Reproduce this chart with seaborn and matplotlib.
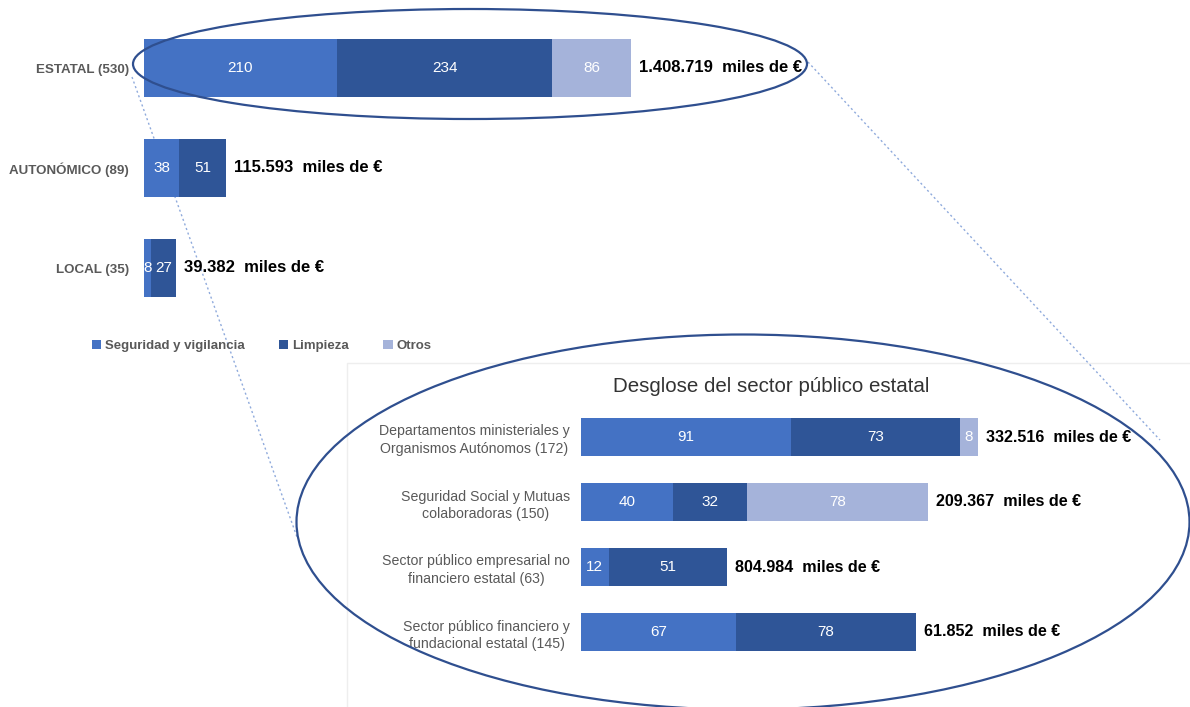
import matplotlib
matplotlib.use("Agg")
import matplotlib.pyplot as plt
import seaborn as sns
import numpy as np
from matplotlib.patches import Ellipse, Patch, Rectangle

sns.set_theme(style="white")
FONT = ['Liberation Sans', 'DejaVu Sans']
plt.rcParams['font.family'] = FONT

# ---------------- data ----------------
top_categories = ["ESTATAL (530)", "AUTONÓMICO (89)", "LOCAL (35)"]
top_seguridad = [210, 38, 8]
top_limpieza = [234, 51, 27]
top_otros = [86, 0, 0]
top_totals = ["1.408.719  miles de €", "115.593  miles de €", "39.382  miles de €"]

bot_categories = ["Departamentos ministeriales y\nOrganismos Autónomos (172)",
                  "Seguridad Social y Mutuas\ncolaboradoras (150)",
                  "Sector público empresarial no\nfinanciero estatal (63)",
                  "Sector público financiero y\nfundacional estatal (145)"]
bot_seguridad = [91, 40, 12, 67]
bot_limpieza = [73, 32, 51, 78]
bot_otros = [8, 78, 0, 0]
bot_totals = ["332.516  miles de €", "209.367  miles de €", "804.984  miles de €", "61.852  miles de €"]

series_names = ["Seguridad y vigilancia", "Limpieza", "Otros"]
colors = ["#4472C4", "#2F5597", "#A5B3DA"]
bot_title = "Desglose del sector público estatal"

W, H = 1190, 707
fig = plt.figure(figsize=(W / 100, H / 100), dpi=100)
fig.patch.set_facecolor("white")


def rect(l, t, r, b):
    return [l / W, 1 - b / H, (r - l) / W, (b - t) / H]


# background overlay: faint inset frame and dotted connector lines
ax_bg = fig.add_axes(rect(0, 0, W, H), zorder=0)
ax_bg.set_xlim(0, W); ax_bg.set_ylim(H, 0); ax_bg.axis("off")
ax_bg.plot([347, 347, W], [H, 363, 363], color="#EEEEEE", lw=1)
ax_bg.plot([132, 297], [77, 537], ls=(0, (1.5, 2)), color="#8FAADC", lw=1)
ax_bg.plot([808, 1160], [62, 440], ls=(0, (1.5, 2)), color="#8FAADC", lw=1)


def stacked(ax, cats, seg, lim, otr, totals, px_per_unit, width_px, seg_fs, tot_fs, lab_fs,
            lab_weight, pad_pt):
    seg = np.array(seg); lim = np.array(lim); otr = np.array(otr)
    c1 = seg; c2 = seg + lim; c3 = seg + lim + otr
    for cum, col in zip([c3, c2, c1], colors[::-1]):
        sns.barplot(x=cum, y=cats, orient="h", color=col, saturation=1, width=0.58,
                    errorbar=None, ax=ax, zorder=2, linewidth=0)
    n = len(cats)
    ax.set_ylim(n - 0.5, -0.5)
    ax.set_xlim(0, width_px / px_per_unit)
    for i in range(n):
        starts = [0, c1[i], c2[i]]
        vals = [seg[i], lim[i], otr[i]]
        for s, v in zip(starts, vals):
            if v > 0:
                ax.text(s + v / 2, i, str(v), ha="center", va="center", color="white",
                        fontsize=seg_fs, zorder=3)
        ax.text(c3[i] + 8 / px_per_unit, i, totals[i], ha="left", va="center",
                fontsize=tot_fs, fontweight="bold", color="black", zorder=3)
    ax.set_xlabel(""); ax.set_ylabel("")
    ax.set_xticks([])
    ax.set_yticks(range(n))
    ax.set_yticklabels(cats, fontsize=lab_fs, color="#595959", fontweight=lab_weight,
                       multialignment="center", linespacing=1.3)
    ax.tick_params(axis="y", length=0, pad=pad_pt)
    sns.despine(ax=ax, left=True, bottom=True)
    ax.patch.set_alpha(0)


ax_top = fig.add_axes(rect(144, 18, W, 318), zorder=1)
stacked(ax_top, top_categories, top_seguridad, top_limpieza, top_otros, top_totals,
        0.919, W - 144, 11, 12, 9.6, "bold", 11)

ax_bot = fig.add_axes(rect(581, 404.5, W, 664.5), zorder=1)
stacked(ax_bot, bot_categories, bot_seguridad, bot_limpieza, bot_otros, bot_totals,
        2.31, W - 581, 11, 11.6, 10.2, "normal", 8)

fig.text(771 / W, 1 - 386 / H, bot_title, ha="center", va="center", fontsize=14.8,
         color="#333333")

handles = [Patch(facecolor=c, edgecolor="none") for c in colors]
leg = fig.legend(handles, series_names, loc="center left", bbox_to_anchor=(80 / W, 1 - 346 / H),
                 ncol=3, frameon=False, handlelength=0.7, handleheight=0.7, handletextpad=0.3,
                 columnspacing=2.6, prop={"size": 9.5, "weight": "bold"})
for t in leg.get_texts():
    t.set_color("#595959")

# front overlay for ellipses
ax_fg = fig.add_axes(rect(0, 0, W, H), zorder=5)
ax_fg.set_xlim(0, W); ax_fg.set_ylim(H, 0); ax_fg.axis("off")
ax_fg.patch.set_alpha(0)
ax_fg.add_patch(Ellipse((470, 64), 674, 110, fill=False, edgecolor="#2F4F8F", lw=1.6))
ax_fg.add_patch(Ellipse((743, 522), 893, 375, fill=False, edgecolor="#2F4F8F", lw=1.6))

fig.savefig("out.png", dpi=100)
